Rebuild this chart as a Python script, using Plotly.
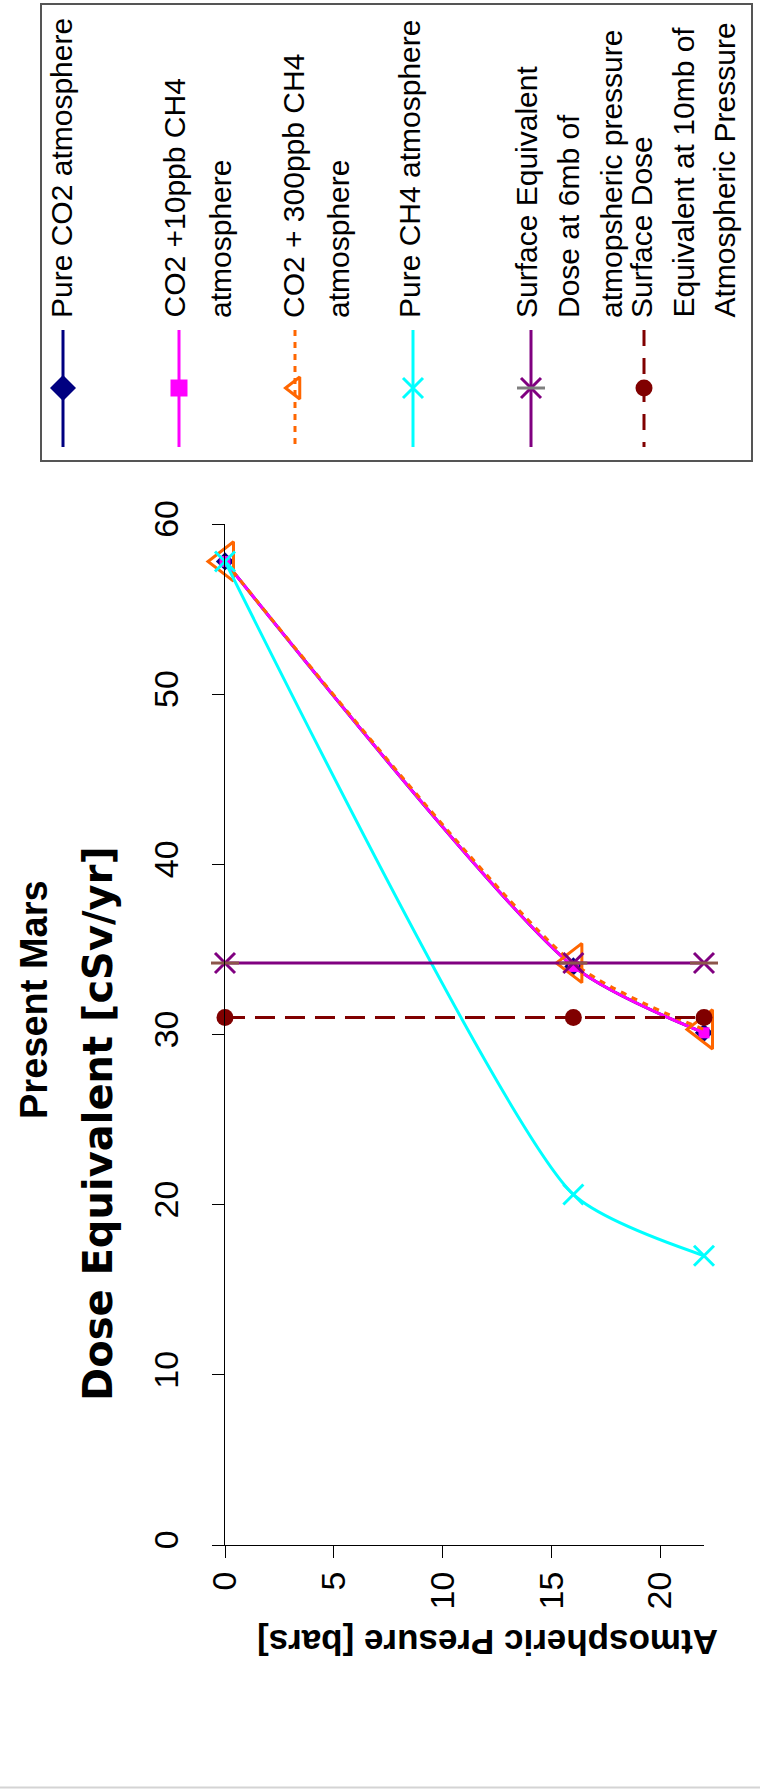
import plotly.graph_objects as go

# ---- data -------------------------------------------------------------
pressure = [0, 16, 22]                      # Atmospheric Presure [bars]
pure_co2 = [57.8, 34.0, 30.1]               # Dose Equivalent [cSv/yr]
co2_10ppb = [57.8, 34.0, 30.1]
co2_300ppb = [57.8, 34.2, 30.3]
pure_ch4 = [57.8, 20.6, 17.0]
surface_6mb = [34.2, 34.2, 34.2]
surface_10mb = [31.0, 31.0, 31.0]

series_names = [
    "Pure CO2 atmosphere",
    "CO2 +10ppb CH4 atmosphere",
    "CO2 + 300ppb CH4 atmosphere",
    "Pure CH4 atmosphere",
    "Surface Equivalent Dose at 6mb of atmopsheric pressure",
    "Surface Dose Equivalent at 10mb of Atmospheric Pressure",
]
legend_lines = [
    ["Pure CO2 atmosphere"],
    ["CO2 +10ppb CH4", "atmosphere"],
    ["CO2 + 300ppb CH4", "atmosphere"],
    ["Pure CH4 atmosphere"],
    ["Surface Equivalent", "Dose at 6mb of", "atmopsheric pressure"],
    ["Surface Dose", "Equivalent at 10mb of", "Atmospheric Pressure"],
]
x_ticks = [0, 5, 10, 15, 20]
y_ticks = [0, 10, 20, 30, 40, 50, 60]

# ---- page geometry (pixels) --------------------------------------------
W, H = 760, 1789
PL, PR, PT, PB = 225, 704, 524, 1545        # plot area edges
FONT = "Liberation Sans, Arial, sans-serif"
WIDE_FONT = "DejaVu Sans, Verdana, sans-serif"

NAVY, MAGENTA, ORANGE = "#000080", "#FF00FF", "#FF6600"
CYAN, PURPLE, DARKRED = "#00FFFF", "#800080", "#800000"

styles = [
    dict(color=NAVY, dash="solid", symbol="diamond", msize=14, open=False, smooth=0.7),
    dict(color=MAGENTA, dash="solid", symbol="square", msize=11, open=False, smooth=0.7),
    dict(color=ORANGE, dash="6px,6px", symbol="triangle-left-open", msize=34, open=True, smooth=0.7),
    dict(color=CYAN, dash="solid", symbol="x-thin-open", msize=20, open=True, smooth=0.6),
    dict(color=PURPLE, dash="solid", symbol="x-thin-open", msize=20, open=True, smooth=0),
    dict(color=DARKRED, dash="20px,10px", symbol="circle", msize=17, open=False, smooth=0),
]
series_values = [pure_co2, co2_10ppb, co2_300ppb, pure_ch4, surface_6mb, surface_10mb]

fig = go.Figure()

for name, vals, st in zip(series_names, series_values, styles):
    fig.add_trace(go.Scatter(
        x=pressure, y=vals, name=name, mode="lines+markers",
        line=dict(color=st["color"], width=3, dash=st["dash"],
                  shape="spline" if st["smooth"] else "linear",
                  smoothing=st["smooth"] or 1.0),
        marker=dict(symbol=st["symbol"], size=st["msize"], color=st["color"],
                    line=dict(color=st["color"], width=3 if st["open"] else 0)),
        xaxis="x", yaxis="y", showlegend=False, cliponaxis=False,
    ))
    if st["color"] == PURPLE:
        # star marker: add the horizontal bar of the asterisk
        fig.add_trace(go.Scatter(
            x=pressure, y=vals, mode="markers", showlegend=False,
            marker=dict(symbol="line-ew-open", size=20,
                        line=dict(color=PURPLE, width=3)),
            xaxis="x", yaxis="y", cliponaxis=False,
        ))

# ---- hand-built legend (vertical text, stacked left to right) -----------
legend_x = [63, 179, 295, 413, 531, 644]
line_centres = [
    [61],
    [174, 220],
    [293, 338],
    [409],
    [526, 568, 611],
    [641, 683, 724],
]
legend_msize = {"diamond": 20, "square": 17, "triangle-left-open": 19,
                "x-thin-open": 20, "circle": 17}
annotations = []
for lx, st, lines, centres in zip(legend_x, styles, legend_lines, line_centres):
    fig.add_trace(go.Scatter(
        x=[lx, lx], y=[330, 447], mode="lines", showlegend=False,
        line=dict(color=st["color"], width=3,
                  dash="16px,12px" if st["color"] == DARKRED else st["dash"]),
        xaxis="x2", yaxis="y2", hoverinfo="skip",
    ))
    sym = st["symbol"]
    fig.add_trace(go.Scatter(
        x=[lx], y=[388], mode="markers", showlegend=False,
        marker=dict(symbol=sym, size=legend_msize[sym], color=st["color"],
                    line=dict(color=st["color"], width=3 if st["open"] else 0)),
        xaxis="x2", yaxis="y2", hoverinfo="skip",
    ))
    if st["color"] == PURPLE:
        fig.add_trace(go.Scatter(
            x=[lx], y=[388], mode="markers", showlegend=False,
            marker=dict(symbol="line-ew-open", size=20,
                        line=dict(color=PURPLE, width=3)),
            xaxis="x2", yaxis="y2", hoverinfo="skip",
        ))
    for text, cx in zip(lines, centres):
        annotations.append(dict(
            x=cx, y=320, xref="x2", yref="y2", text=text, showarrow=False,
            textangle=-90, xanchor="center", yanchor="bottom",
            font=dict(family=FONT, size=30, color="black"),
        ))

# legend frame and page edge
shapes = [
    dict(type="rect", xref="x2", yref="y2", x0=41, x1=752, y0=4, y1=461,
         line=dict(color="#555555", width=2), fillcolor="rgba(0,0,0,0)"),
    dict(type="line", xref="x2", yref="y2", x0=0, x1=W, y0=1787.5, y1=1787.5,
         line=dict(color="#d4d4d4", width=2)),
]

# titles
annotations += [
    dict(x=34, y=1000, xref="x2", yref="y2", text="<b>Present Mars</b>",
         showarrow=False, textangle=-90, xanchor="center", yanchor="middle",
         font=dict(family=FONT, size=38, color="black")),
    dict(x=98, y=1124, xref="x2", yref="y2", text="<b>Dose Equivalent [cSv/yr]</b>",
         showarrow=False, textangle=-90, xanchor="center", yanchor="middle",
         font=dict(family=WIDE_FONT, size=40, color="black")),
    dict(x=488, y=1643, xref="x2", yref="y2", text="<b>Atmospheric Presure [bars]</b>",
         showarrow=False, textangle=180, xanchor="center", yanchor="middle",
         font=dict(family=FONT, size=35, color="black")),
]

axis_common = dict(
    showline=True, linecolor="black", linewidth=1, mirror=False,
    ticks="outside", ticklen=12, tickwidth=1, tickcolor="black",
    showgrid=False, zeroline=False, automargin=False, fixedrange=True,
    tickangle=-90, tickfont=dict(family=FONT, size=34, color="black"),
)

fig.update_layout(
    width=W, height=H, margin=dict(l=0, r=0, t=0, b=0),
    paper_bgcolor="white", plot_bgcolor="rgba(0,0,0,0)",
    template="none", showlegend=False,
    xaxis=dict(domain=[PL / W, PR / W], range=[0, 22], tickvals=x_ticks,
               anchor="y", **axis_common),
    yaxis=dict(domain=[(H - PB) / H, (H - PT) / H], range=[0, 60], tickvals=y_ticks,
               anchor="x", ticklabelstandoff=20, **axis_common),
    xaxis2=dict(domain=[0, 1], range=[0, W], visible=False, anchor="y2",
                fixedrange=True),
    yaxis2=dict(domain=[0, 1], range=[H, 0], visible=False, anchor="x2",
                fixedrange=True),
    annotations=annotations,
    shapes=shapes,
)

fig.write_html("out.html")
